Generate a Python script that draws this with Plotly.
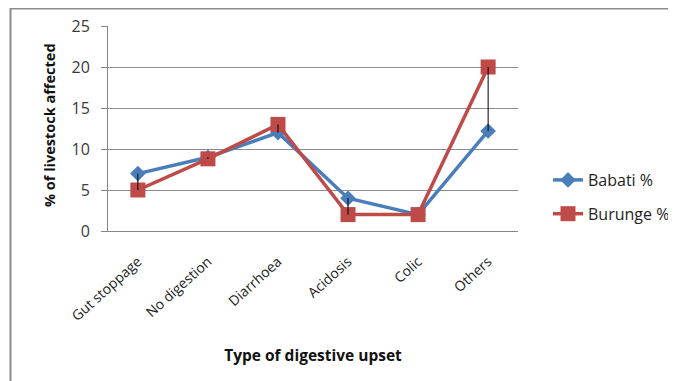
import plotly.graph_objects as go

categories = ["Gut stoppage", "No digestion", "Diarrhoea", "Acidosis", "Colic", "Others"]
babati = [7, 9, 12, 4, 2, 12.2]
burunge = [5, 8.8, 13, 2, 2, 20]
y_ticks = [0, 5, 10, 15, 20, 25]

FONT = "Open Sans"
fig = go.Figure()

# high-low (drop) lines between the two series (on overlay axis carrying the short tick marks)
hx, hy = [], []
for c, a, b in zip(categories, babati, burunge):
    hx += [c, c, None]
    hy += [a, b, None]
fig.add_trace(go.Scatter(x=hx, y=hy, mode="lines", line=dict(color="#000000", width=1),
                         showlegend=False, hoverinfo="skip", yaxis="y2"))

fig.add_trace(go.Scatter(x=categories, y=babati, name="Babati %", mode="lines+markers",
                         line=dict(color="#4A7EBB", width=3.5),
                         marker=dict(symbol="diamond", size=12, color="#4A7EBB"),
                         legendgroup="a"))
fig.add_trace(go.Scatter(x=categories, y=burunge, name="Burunge %", mode="lines+markers",
                         line=dict(color="#BE4B48", width=3.5),
                         marker=dict(symbol="square", size=15, color="#BE4B48"),
                         legendgroup="b"))

OFF = 8  # page body margin
L, R, T, B = 108 - OFF, 518 - OFF, 26 - OFF, 231 - OFF
W, H = 676 - OFF, 381 - OFF

def px(x):
    return (x - OFF - L) / (R - L)

def py(y):
    return (B - (y - OFF)) / (B - T)

fig.update_layout(
    width=W, height=H,
    margin=dict(l=L, r=W - R, t=T, b=H - B, autoexpand=False),
    paper_bgcolor="white", plot_bgcolor="white",
    font=dict(family=FONT, size=13, color="#3a3a3a"),
    showlegend=True,
    legend=dict(x=px(548), y=py(163), xanchor="left", yanchor="top",
                font=dict(size=16, color="#222222"), tracegroupgap=10,
                bgcolor="rgba(0,0,0,0)"),
    xaxis=dict(type="category", tickangle=-42, showgrid=False, showline=True,
               linecolor="#868686", linewidth=1, ticks="outside", ticklen=16,
               tickcolor="rgba(0,0,0,0)", tickfont=dict(size=14, color="#222222"),
               title=dict(text="<b>Type of digestive upset</b>", font=dict(size=15.5, color="#111111"), standoff=26)),
    yaxis=dict(range=[0, 25], tickvals=y_ticks, showgrid=True, gridcolor="#8c8c8c", gridwidth=1,
               showline=True, linecolor="#868686", linewidth=1, ticks="outside", ticklen=14,
               tickcolor="rgba(0,0,0,0)", tickfont=dict(size=16, color="#3a3a3a"), zeroline=False),
    yaxis2=dict(range=[0, 25], tickvals=y_ticks, overlaying="y", side="left", showgrid=False,
                showline=False, zeroline=False, showticklabels=False, ticks="outside", ticklen=6,
                tickcolor="#868686"),
    annotations=[
        dict(text="<b>% of livestock affected</b>", xref="paper", yref="paper",
             x=px(49), y=py(125), xanchor="center", yanchor="middle", textangle=-90,
             showarrow=False, font=dict(size=14.5, color="#111111")),
    ],
    shapes=[
        dict(type="line", xref="paper", yref="paper", x0=px(10), x1=px(690), y0=py(8.5), y1=py(8.5),
             line=dict(color="#8a8a8a", width=2)),
        dict(type="line", xref="paper", yref="paper", x0=px(10.5), x1=px(10.5), y0=py(8), y1=py(395),
             line=dict(color="#8a8a8a", width=2)),
    ],
)

fig.write_html("out.html")
